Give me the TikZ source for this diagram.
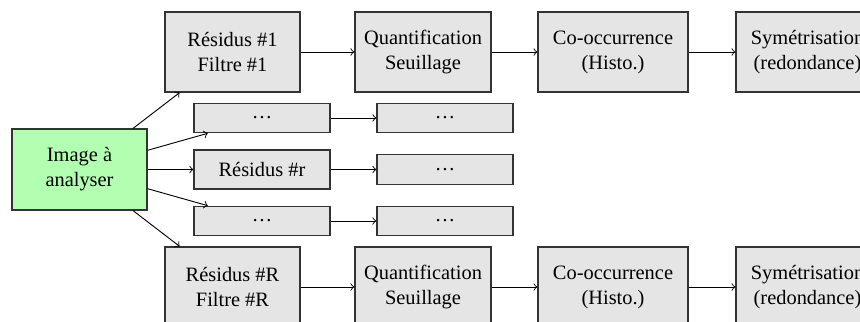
\documentclass[tikz,border=0pt]{standalone}
\usepackage{fontspec}
\setmainfont{Liberation Serif}
\begin{document}
\begin{tikzpicture}[x=0.49pt,y=-0.49pt,
  box/.style={draw=black!80,line width=0.6pt,fill=gray!20,inner sep=0pt,
    align=center,minimum width=66.2pt,minimum height=39.2pt,font=\fontsize{10}{12.25}\selectfont},
  small/.style={box,minimum width=66.7pt,minimum height=14.4pt},
  src/.style={box,fill=green!30,minimum height=39.7pt},
  arr/.style={->,black,line width=0.45pt}]
\useasboundingbox (0,0) rectangle (860,322);
% source image
\node[src] (img) at (79.5,169.5) {Image à\\analyser};
% first chain
\node[box] (r1) at (232.5,52) {Résidus \#1\\Filtre \#1};
\node[box,minimum width=66.7pt] (q1) at (423,52) {Quantification\\Seuillage};
\node[box,minimum width=73.5pt] (c1) at (613,52) {Co-occurrence\\(Histo.)};
\node[box,minimum width=70pt] (s1) at (807.5,52) {Symétrisation\\(redondance)};
% intermediate chains
\node[small] (da) at (262,118) {\dots};
\node[small] (db) at (445,118) {\dots};
\node[small,minimum height=19.1pt] (ra) at (262,169.5) {Résidus \#r};
\node[small] (rb) at (445,169.5) {\dots};
\node[small] (ea) at (262,221) {\dots};
\node[small] (eb) at (445,221) {\dots};
% last chain
\node[box] (rR) at (232.5,287) {Résidus \#R\\Filtre \#R};
\node[box,minimum width=66.7pt] (qR) at (423,287) {Quantification\\Seuillage};
\node[box,minimum width=73.5pt] (cR) at (613,287) {Co-occurrence\\(Histo.)};
\node[box,minimum width=70pt] (sR) at (807.5,287) {Symétrisation\\(redondance)};
% connectors
\foreach \t in {r1,da,ra,ea,rR} \draw[arr] (img) -- (\t);
\draw[arr] (r1) -- (q1);
\draw[arr] (q1) -- (c1);
\draw[arr] (c1) -- (s1);
\draw[arr] (da) -- (db);
\draw[arr] (ra) -- (rb);
\draw[arr] (ea) -- (eb);
\draw[arr] (rR) -- (qR);
\draw[arr] (qR) -- (cR);
\draw[arr] (cR) -- (sR);
\end{tikzpicture}
\end{document}
